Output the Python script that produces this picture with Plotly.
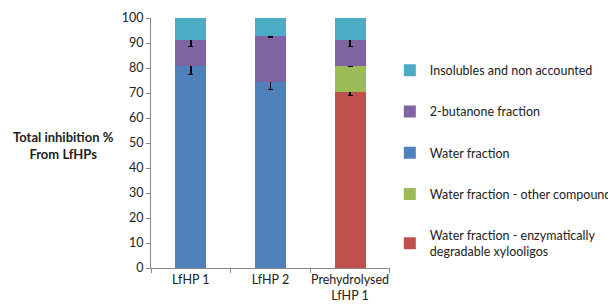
import plotly.graph_objects as go

categories = ["LfHP 1", "LfHP 2", "Prehydrolysed<br>LfHP 1"]

series_names = [
    "Water fraction - enzymatically<br>degradable xylooligos",
    "Water fraction - other compounds",
    "Water fraction",
    "2-butanone fraction",
    "Insolubles and non accounted",
]
enzymatic = [None, None, 70.3]
other_comp = [None, None, 10.5]
water = [80.8, 74.3, None]
butanone = [10.5, 18.4, 10.5]
insolubles = [8.7, 7.3, 8.7]

err_enzymatic = [0, 0, 1.2]
err_other = [0, 0, 0.2]
err_water = [3.4, 2.9, 0]
err_butanone = [2.7, 0.3, 2.7]

colors = ["#C0504D", "#9BBB59", "#4F81BD", "#8064A2", "#4BACC6"]
values = [enzymatic, other_comp, water, butanone, insolubles]
errors = [err_enzymatic, err_other, err_water, err_butanone, None]

FONT = "Lato, Open Sans, sans-serif"

fig = go.Figure()
for i, (name, vals, err, col) in enumerate(zip(series_names, values, errors, colors)):
    kw = {}
    if err is not None:
        kw["error_y"] = dict(type="data", array=err, visible=True,
                             color="black", thickness=1.4, width=2.5)
    fig.add_trace(go.Bar(x=categories, y=vals, name=name, marker_color=col,
                         marker_line_width=0, legendgroup=name, legendrank=100 - i,
                         width=0.39, **kw))

fig.update_layout(
    barmode="stack",
    width=608, height=300,
    margin=dict(l=143, r=220, t=10, b=40),
    plot_bgcolor="white", paper_bgcolor="white",
    font=dict(family=FONT, size=12, color="#222"),
    showlegend=True,
    legend=dict(xref="container", yref="paper", x=0.628, y=0.85,
                xanchor="left", yanchor="top",
                traceorder="grouped", tracegroupgap=22,
                font=dict(family=FONT, size=12.5, color="#222"), itemwidth=30),
    xaxis=dict(showline=True, linecolor="#888", ticks="outside", tickson="boundaries",
               tickcolor="#888", ticklen=4, tickangle=0, tickfont=dict(size=12.5),
               automargin=False),
    yaxis=dict(range=[0, 100], dtick=10, showline=True, linecolor="#888",
               ticks="outside", tickcolor="#888", ticklen=4, showgrid=False,
               zeroline=False, tickfont=dict(size=12.5), automargin=False),
    annotations=[dict(text="<b>Total inhibition %<br>From LfHPs</b>", xref="paper",
                      yref="paper", x=-0.367, y=0.49, xanchor="center", yanchor="middle",
                      showarrow=False, font=dict(family=FONT, size=13, color="#222"))],
)

fig.write_html("out.html")
